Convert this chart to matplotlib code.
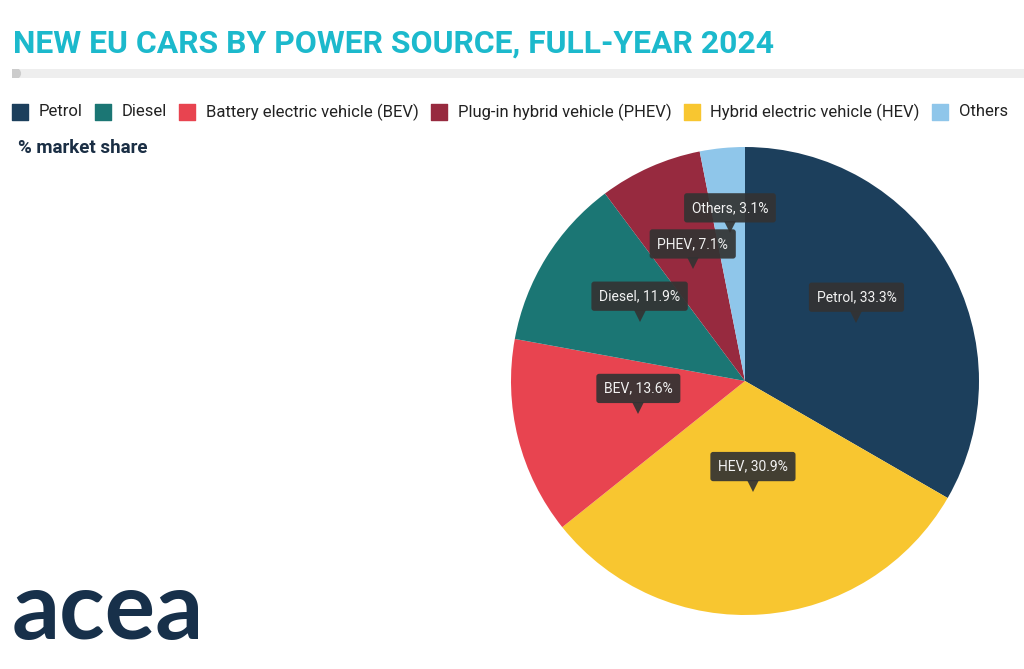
import numpy as np
import matplotlib.pyplot as plt

plt.rcParams['font.family'] = ['Roboto', 'DejaVu Sans']

names = ['Petrol', 'Diesel', 'Battery electric vehicle (BEV)',
         'Plug-in hybrid vehicle (PHEV)', 'Hybrid electric vehicle (HEV)', 'Others']
short = ['Petrol', 'HEV', 'BEV', 'Diesel', 'PHEV', 'Others']
shares = [33.3, 30.9, 13.6, 11.9, 7.1, 3.1]

colors = {'Petrol': '#1c3f5c', 'Diesel': '#1b7674', 'BEV': '#e84450',
          'PHEV': '#972a3f', 'HEV': '#f8c630', 'Others': '#8fc6ea'}
legend_keys = ['Petrol', 'Diesel', 'BEV', 'PHEV', 'HEV', 'Others']
# distance of each label tip from the centre, fraction of radius
label_r = {'Petrol': 0.55, 'HEV': 0.45, 'BEV': 0.47, 'Diesel': 0.53,
           'PHEV': 0.55, 'Others': 0.66}

W, H = 1024, 669
fig = plt.figure(figsize=(W / 100, H / 100), dpi=100)
fig.patch.set_facecolor('white')
renderer = fig.canvas.get_renderer()

# title + grey rule
title = fig.text(13 / W, 1 - 44 / H, 'NEW EU CARS BY POWER SOURCE, FULL-YEAR 2024',
                 weight='bold', fontsize=26, color='#1cb9cc',
                 va='center', ha='left')
tw = title.get_window_extent(renderer).width
title.set_fontsize(26 * 762 / tw)

bar = fig.add_axes([12 / W, 1 - 77 / H, 1 - 12 / W, 8 / H])
bar.axis('off')
bar.set_xlim(0, 1)
bar.set_ylim(0, 1)
bar.fill_between([0, 1], 0, 1, color='#eeeeee')
bar.plot([0.003], [0.5], 'o', color='#cccccc', ms=7)

# legend
x = 12
for k, lab in zip(legend_keys, names):
    sq = plt.Rectangle(((x) / W, 1 - 120 / H), 16 / W, 16 / H,
                       transform=fig.transFigure, color=colors[k],
                       joinstyle='round')
    fig.patches.append(sq)
    t = fig.text((x + 27) / W, 1 - 112 / H, lab, fontsize=12, color='#222222',
                 va='center', ha='left')
    bb = t.get_window_extent(renderer)
    x = bb.x1 + 12

fig.text(18 / W, 1 - 148 / H, '% market share', fontsize=13.5, weight='bold',
         color='#1a2e44', va='center', ha='left')

# pie
cx, cy, r = 745, 381, 234
ax = fig.add_axes([(cx - r) / W, 1 - (cy + r) / H, 2 * r / W, 2 * r / H])
ax.set_aspect('equal')
wedges, _ = ax.pie(shares, colors=[colors[s] for s in short], startangle=90,
                   counterclock=False, radius=1,
                   wedgeprops=dict(linewidth=0))
ax.set_xlim(-1, 1)
ax.set_ylim(-1, 1)
for w, s, v in zip(wedges, short, shares):
    ang = np.deg2rad((w.theta1 + w.theta2) / 2)
    d = label_r[s]
    px, py = d * np.cos(ang), d * np.sin(ang)
    ax.plot(px, py + 0.0, marker='v', color='#333333', ms=9, alpha=0.92,
            markeredgewidth=0)
    ax.annotate(f'{s}, {v}%', (px, py), xytext=(0, 14), textcoords='offset points',
                ha='center', va='center', fontsize=10, color='#f2f2f2',
                bbox=dict(boxstyle='round,pad=0.55,rounding_size=0.2',
                          fc='#333333', ec='none', alpha=0.92))

# logo
fig.text(12 / W, 1 - 612 / H, 'acea', family=['Lato', 'DejaVu Sans'],
         fontsize=68, weight='bold', color='#17304a', va='center', ha='left')

fig.savefig('out.png', dpi=100, facecolor='white')
